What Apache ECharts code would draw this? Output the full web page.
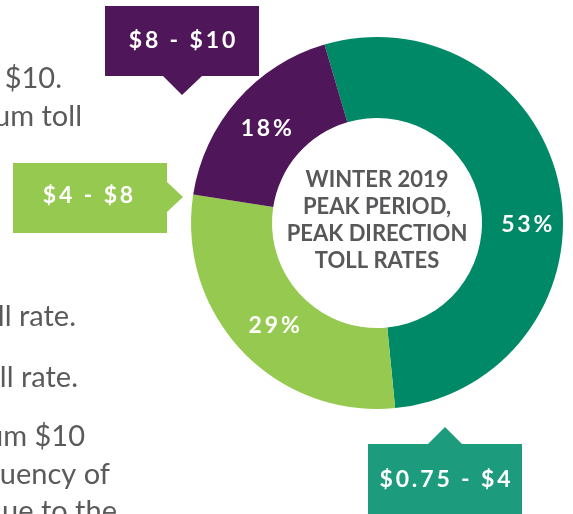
<!DOCTYPE html>
<html>
<head>
<meta charset="utf-8">
<script src="https://cdn.jsdelivr.net/npm/echarts@6/dist/echarts.min.js"></script>
<style>
  html, body { margin: 0; padding: 0; background: #fff; }
  #tollchart { width: 573px; height: 514px; }
</style>
</head>
<body>
<div id="tollchart"></div>
<script>
  // toll rate bands and their share of trips
  const bands = ['$0.75 - $4', '$4 - $8', '$8 - $10']
  const shares = [53, 29, 18]
  const colors = ['#008966', '#96c950', '#4f1659']
  const calloutColors = ['#1c9b7d', '#96c950', '#4f1659']
  const centerLines = ['WINTER 2019', 'PEAK PERIOD,', 'PEAK DIRECTION', 'TOLL RATES']
  // body text of the page next to the chart (cut off on the left)
  const sideText = ['$10.', 'um toll', 'll rate.', 'll rate.', 'um $10', 'uency of', 'ue to the']

  const gap = '\u2009'
  const spaced = (s) => s.split('').join(gap)

  const chart = echarts.init(document.getElementById('tollchart'))

  const labelOffsets = [[4, 30], [5, 1], [1, 3]]

  const sideRight = [62, 82, 76, 78, 85, 110, 117]
  const sideY = [79, 117, 317, 378, 437, 475, 512]

  const textStyleBase = { fontFamily: 'Lato', fontWeight: 'bold', fill: '#fff' }

  chart.setOption({
    animation: false,
    series: [
      {
        type: 'pie',
        center: [377, 223],
        radius: [105, 186],
        startAngle: 106.4,
        clockwise: true,
        silent: true,
        label: {
          show: true,
          position: 'inside',
          color: '#fff',
          fontFamily: 'Lato',
          fontWeight: 'bold',
          fontSize: 23,
          formatter: (p) => spaced(p.value + '%')
        },
        labelLine: { show: false },
        data: bands.map((b, i) => ({
          name: b,
          value: shares[i],
          itemStyle: { color: colors[i] },
          label: { offset: labelOffsets[i] }
        }))
      }
    ],
    graphic: [
      // center title
      {
        type: 'text',
        x: 377,
        y: 220,
        style: {
          text: centerLines.join('\n'),
          fontFamily: 'Lato',
          fontWeight: 'bold',
          fontSize: 22,
          lineHeight: 27,
          fill: '#58585a',
          align: 'center',
          verticalAlign: 'middle'
        }
      },
      // callouts
      {
        type: 'polygon',
        shape: { points: [[105, 6], [259, 6], [259, 76], [202, 76], [182, 95], [163, 76], [105, 76]] },
        style: { fill: calloutColors[2] }
      },
      {
        type: 'text', x: 182, y: 41,
        style: Object.assign({ text: spaced(bands[2]), fontSize: 23, align: 'center', verticalAlign: 'middle' }, textStyleBase)
      },
      {
        type: 'polygon',
        shape: { points: [[13, 163], [167, 163], [167, 182], [183, 197], [167, 212], [167, 233], [13, 233]] },
        style: { fill: calloutColors[1] }
      },
      {
        type: 'text', x: 88, y: 196,
        style: Object.assign({ text: spaced(bands[1]), fontSize: 23, align: 'center', verticalAlign: 'middle' }, textStyleBase)
      },
      {
        type: 'polygon',
        shape: { points: [[368, 444], [428, 444], [445, 427], [462, 444], [522, 444], [522, 520], [368, 520]] },
        style: { fill: calloutColors[0] }
      },
      {
        type: 'text', x: 445, y: 480,
        style: Object.assign({ text: spaced(bands[0]), fontSize: 23, align: 'center', verticalAlign: 'middle' }, textStyleBase)
      }
    ].concat(sideText.map((t, i) => ({
      type: 'text',
      x: sideRight[i],
      y: sideY[i],
      style: {
        text: t,
        fontFamily: 'Lato',
        fontSize: 29,
        fill: '#5a5a5a',
        align: 'right',
        verticalAlign: 'middle'
      }
    })))
  })
</script>
</body>
</html>
